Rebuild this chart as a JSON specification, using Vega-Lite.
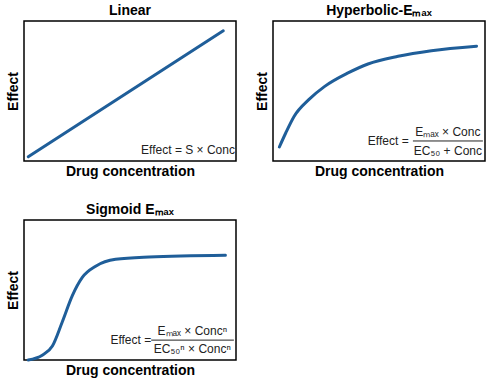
{
  "$schema": "https://vega.github.io/schema/vega-lite/v6.json",
  "padding": {"left": 5, "top": 3, "right": 5, "bottom": 5},
  "columns": 2,
  "spacing": {"row": 23, "column": 17},
  "datasets": {
    "linear": [
      {"conc": 0.02, "effect": 0.03},
      {"conc": 0.94, "effect": 0.93}
    ],
    "hyper": [
      {"conc": 0.03, "effect": 0.10},
      {"conc": 0.06, "effect": 0.20},
      {"conc": 0.10, "effect": 0.32},
      {"conc": 0.17, "effect": 0.44},
      {"conc": 0.244, "effect": 0.533},
      {"conc": 0.354, "effect": 0.629},
      {"conc": 0.448, "effect": 0.693},
      {"conc": 0.59, "effect": 0.748},
      {"conc": 0.747, "effect": 0.788},
      {"conc": 0.96, "effect": 0.82}
    ],
    "sigmoid": [
      {"conc": 0.02, "effect": 0.0},
      {"conc": 0.086, "effect": 0.034},
      {"conc": 0.134, "effect": 0.10},
      {"conc": 0.18, "effect": 0.27},
      {"conc": 0.228, "effect": 0.46},
      {"conc": 0.275, "effect": 0.59},
      {"conc": 0.338, "effect": 0.67},
      {"conc": 0.432, "effect": 0.72},
      {"conc": 0.59, "effect": 0.736},
      {"conc": 0.95, "effect": 0.748}
    ],
    "one": [{}]
  },
  "config": {
    "font": "Liberation Sans",
    "view": {"stroke": "black", "strokeWidth": 1.5},
    "axis": {
      "labels": false, "ticks": false, "domain": false, "grid": false,
      "titleFont": "Liberation Sans", "titleFontSize": 14, "titleFontWeight": "bold", "titleColor": "black"
    },
    "axisX": {"titlePadding": 3},
    "axisY": {"titlePadding": 4},
    "title": {"font": "Liberation Sans", "fontSize": 14, "fontWeight": "bold", "color": "black", "offset": 3},
    "text": {"font": "Liberation Sans", "fontSize": 12, "color": "#222"},
    "line": {"color": "#1f5e99", "strokeWidth": 3, "strokeCap": "round"},
    "rule": {"color": "#222", "strokeWidth": 1}
  },
  "concat": [
    {
      "title": "Linear",
      "width": 212, "height": 140,
      "layer": [
        {
          "data": {"name": "linear"},
          "mark": "line",
          "encoding": {
            "x": {"field": "conc", "type": "quantitative", "scale": {"domain": [0, 1], "nice": false, "zero": false}, "title": "Drug concentration"},
            "y": {"field": "effect", "type": "quantitative", "scale": {"domain": [0, 1], "nice": false, "zero": false}, "title": "Effect"}
          }
        },
        {
          "data": {"name": "one"},
          "mark": {"type": "text", "align": "right", "baseline": "alphabetic", "text": "Effect = S × Conc"},
          "encoding": {"x": {"datum": 0.995}, "y": {"datum": 0.05}}
        }
      ]
    },
    {
      "title": "Hyperbolic-Eₘₐₓ",
      "width": 212, "height": 140,
      "layer": [
        {
          "data": {"name": "hyper"},
          "mark": {"type": "line", "interpolate": "monotone"},
          "encoding": {
            "x": {"field": "conc", "type": "quantitative", "scale": {"domain": [0, 1], "nice": false, "zero": false}, "title": "Drug concentration"},
            "y": {"field": "effect", "type": "quantitative", "scale": {"domain": [0, 1], "nice": false, "zero": false}, "title": "Effect"}
          }
        },
        {
          "data": {"name": "one"},
          "mark": {"type": "text", "align": "right", "baseline": "middle", "text": "Effect ="},
          "encoding": {"x": {"datum": 0.64}, "y": {"datum": 0.145}}
        },
        {
          "data": {"name": "one"},
          "mark": {"type": "text", "align": "center", "baseline": "middle", "text": "Eₘₐₓ × Conc"},
          "encoding": {"x": {"datum": 0.825}, "y": {"datum": 0.207}}
        },
        {
          "data": {"name": "one"},
          "mark": {"type": "text", "align": "center", "baseline": "middle", "text": "EC₅₀ + Conc"},
          "encoding": {"x": {"datum": 0.825}, "y": {"datum": 0.074}}
        },
        {
          "data": {"name": "one"},
          "mark": "rule",
          "encoding": {"x": {"datum": 0.66}, "x2": {"datum": 0.99}, "y": {"datum": 0.143}}
        }
      ]
    },
    {
      "title": "Sigmoid Eₘₐₓ",
      "width": 212, "height": 140,
      "layer": [
        {
          "data": {"name": "sigmoid"},
          "mark": {"type": "line", "interpolate": "monotone"},
          "encoding": {
            "x": {"field": "conc", "type": "quantitative", "scale": {"domain": [0, 1], "nice": false, "zero": false}, "title": "Drug concentration"},
            "y": {"field": "effect", "type": "quantitative", "scale": {"domain": [0, 1], "nice": false, "zero": false}, "title": "Effect"}
          }
        },
        {
          "data": {"name": "one"},
          "mark": {"type": "text", "align": "right", "baseline": "middle", "text": "Effect ="},
          "encoding": {"x": {"datum": 0.6}, "y": {"datum": 0.144}}
        },
        {
          "data": {"name": "one"},
          "mark": {"type": "text", "align": "center", "baseline": "middle", "text": "Eₘₐₓ × Concⁿ"},
          "encoding": {"x": {"datum": 0.794}, "y": {"datum": 0.209}}
        },
        {
          "data": {"name": "one"},
          "mark": {"type": "text", "align": "center", "baseline": "middle", "text": "EC₅₀ⁿ × Concⁿ"},
          "encoding": {"x": {"datum": 0.794}, "y": {"datum": 0.077}}
        },
        {
          "data": {"name": "one"},
          "mark": "rule",
          "encoding": {"x": {"datum": 0.6}, "x2": {"datum": 0.99}, "y": {"datum": 0.142}}
        }
      ]
    }
  ]
}
